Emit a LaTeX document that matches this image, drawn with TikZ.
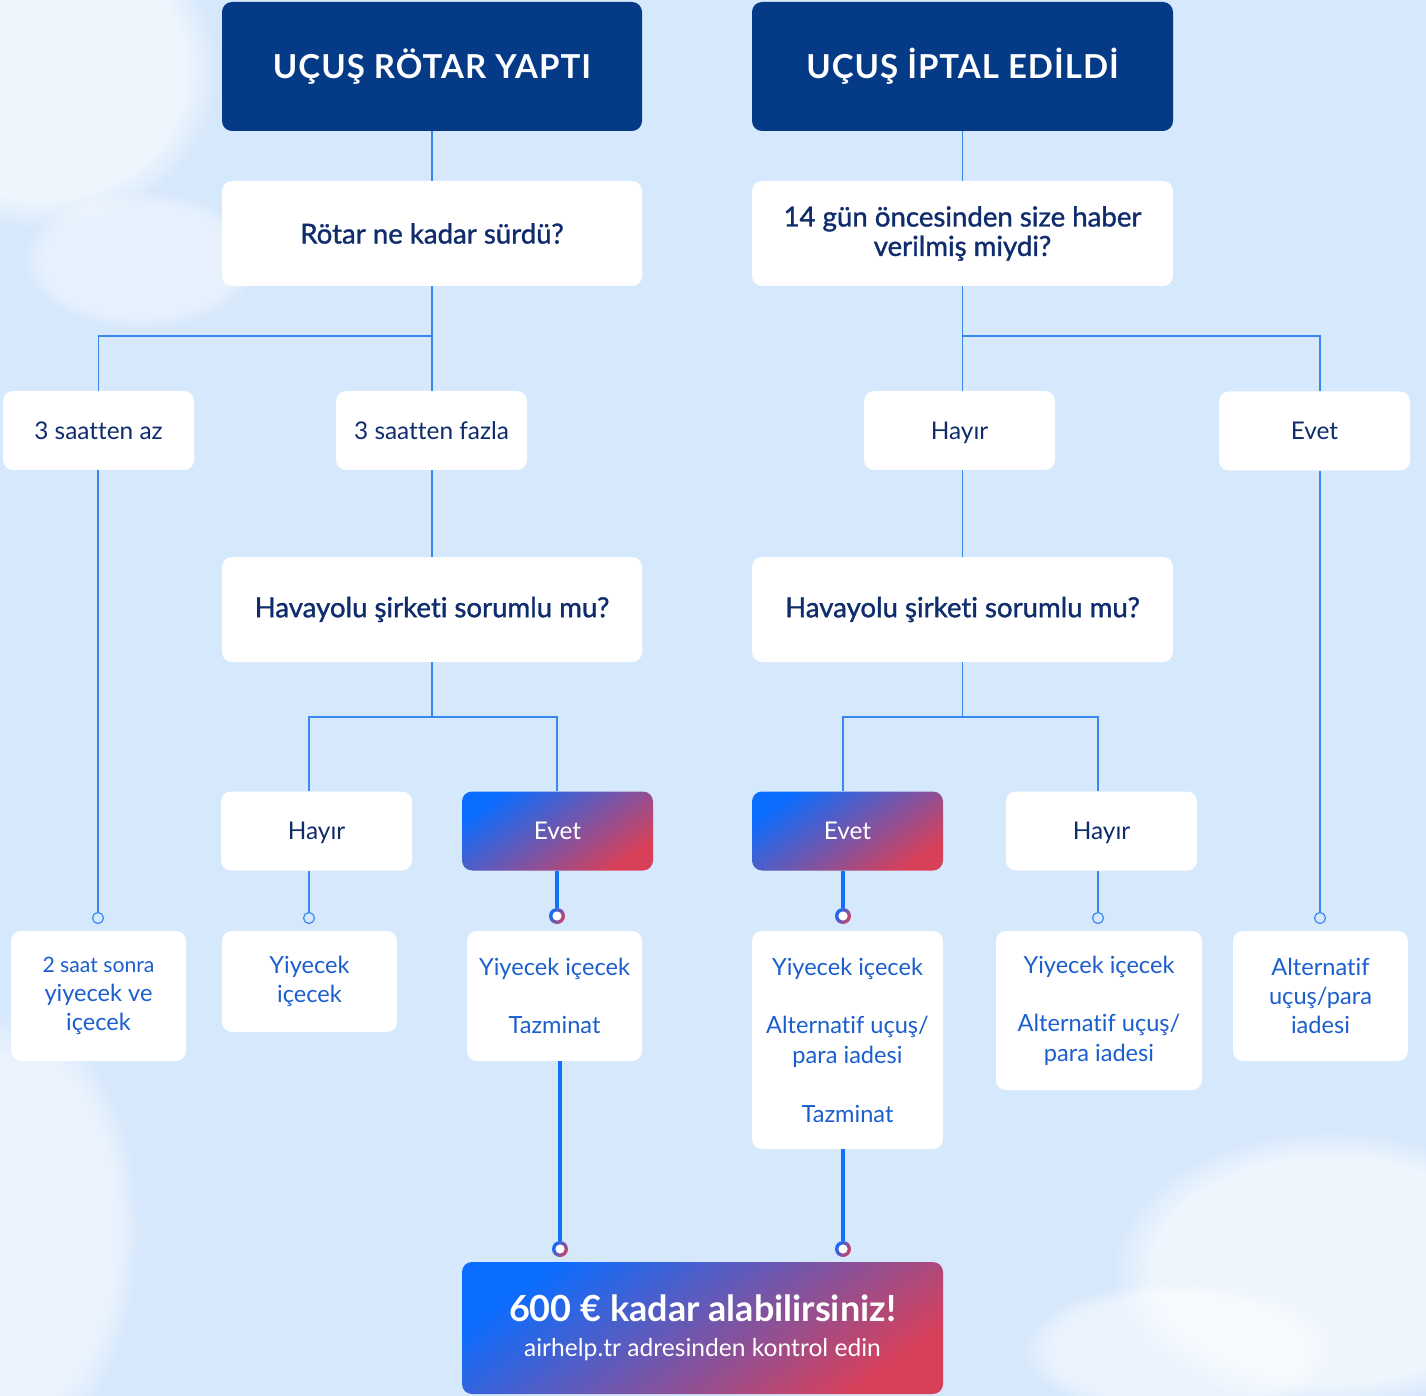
\documentclass[tikz,border=0pt]{standalone}
\usepackage{fontspec}
\setmainfont{Lato}[Ligatures={NoCommon,NoContextual}]
\newfontfamily\medfont[FakeBold=1.2,Ligatures={NoCommon,NoContextual}]{Lato}
\usetikzlibrary{calc,fadings}
\definecolor{bgblue}{HTML}{D6E8FC}
\definecolor{navy}{HTML}{053A87}
\definecolor{qtext}{HTML}{0F2C6C}
\definecolor{btext}{HTML}{1B5FCF}
\definecolor{linkblue}{HTML}{3888F0}
\definecolor{boldblue}{HTML}{1470F8}
\definecolor{gblue}{HTML}{0A6DFF}
\definecolor{gred}{HTML}{D8405A}

\begin{document}
\begin{tikzpicture}[x=0.5pt,y=-0.5pt,
sz/.style 2 args={minimum width=#1*0.5pt,minimum height=#2*0.5pt},
hdr/.style={fill=navy,rounded corners=5pt,inner sep=0pt,text=white,font=\bfseries\fontsize{16.5}{19}\selectfont\addfontfeature{LetterSpace=3}},
qbox/.style={fill=white,rounded corners=5pt,inner sep=0pt,align=center,text=qtext,font=\medfont\fontsize{13.8}{14.7}\selectfont},
obox/.style={fill=white,rounded corners=5pt,inner sep=0pt,sz={191}{79},text=qtext,font=\fontsize{12.2}{14.7}\selectfont},
gbox/.style={rounded corners=5pt,inner sep=0pt,sz={191}{79},left color=gblue,right color=gred,shading angle=35,text=white,font=\fontsize{12.2}{14.7}\selectfont},
rbox/.style={fill=white,rounded corners=5pt,inner sep=0pt,align=center,text=btext,font=\fontsize{11.8}{14.7}\selectfont},
ring/.style={circle,draw=linkblue,line width=0.6pt,fill=bgblue,inner sep=0pt,minimum size=5.5pt},
gring/.style={circle,inner sep=0pt,minimum size=8pt,left color=gblue,right color=gred,shading angle=60,
  path picture={\fill[white] (path picture bounding box.center) circle[radius=2.3pt];}},
link/.style={draw=linkblue,line width=0.7pt},
boldlink/.style={draw=boldblue,line width=2pt}]

\useasboundingbox (0,0) rectangle (1426,1396);
\fill[bgblue] (0,0) rectangle (1426,1396);
\fill[white,fill opacity=0.6,path fading=circle with fuzzy edge 20 percent] (40,70) ellipse [x radius=90pt,y radius=80pt];
\fill[white,fill opacity=0.4,path fading=circle with fuzzy edge 20 percent] (140,260) ellipse [x radius=60pt,y radius=35pt];
\fill[white,fill opacity=0.5,path fading=circle with fuzzy edge 20 percent] (20,1230) ellipse [x radius=60pt,y radius=110pt];
\fill[white,fill opacity=0.6,path fading=circle with fuzzy edge 20 percent] (1330,1270) ellipse [x radius=110pt,y radius=70pt];
\fill[white,fill opacity=0.5,path fading=circle with fuzzy edge 20 percent] (1180,1350) ellipse [x radius=80pt,y radius=35pt];

\node[hdr,sz={420}{129}] (delay) at (432,66.5) {UÇUŞ RÖTAR YAPTI};
\node[hdr,sz={421}{129}] (cancel) at (962.5,66.5) {UÇUŞ İPTAL EDİLDİ};
\node[qbox,sz={420}{105}] (howlong) at (432,233.5) {Rötar ne kadar sürdü?};
\node[qbox,sz={421}{105}] (notice) at (962.5,233.5) {14 gün öncesinden size haber\\verilmiş miydi?};
\node[obox] (less) at (98.5,430.5) {3 saatten az};
\node[obox] (more) at (431.5,430.5) {3 saatten fazla};
\node[obox,text depth=0pt] (noticeno) at (959.5,430.5) {Hayır};
\node[obox] (noticeyes) at (1314.5,431) {Evet};
\node[qbox,sz={420}{105}] (faultL) at (432,609.5) {Havayolu şirketi sorumlu mu?};
\node[qbox,sz={421}{105}] (faultR) at (962.5,609.5) {Havayolu şirketi sorumlu mu?};
\node[obox,text depth=0pt] (faultLno) at (316.5,831) {Hayır};
\node[gbox] (faultLyes) at (557.5,831) {Evet};
\node[gbox] (faultRyes) at (847.5,831) {Evet};
\node[obox,text depth=0pt] (faultRno) at (1101.5,831) {Hayır};

\node[ring] (r1) at (98,918) {};
\node[ring] (r2) at (309,918) {};
\node[gring] (r3) at (557,916) {};
\node[gring] (r4) at (843,916) {};
\node[ring] (r5) at (1098,918) {};
\node[ring] (r6) at (1320,918) {};
\node[gring] (r7) at (560,1249) {};
\node[gring] (r8) at (843,1249) {};

\node[rbox,sz={175}{130}] (res1) at (98.5,996) {{\fontsize{10.6}{14.7}\selectfont 2 saat sonra}\\yiyecek ve\\içecek};
\node[rbox,sz={175}{101}] (res2) at (309.5,981.5) {Yiyecek\\içecek};
\node[rbox,sz={175}{130}] (res3) at (554.5,996) {Yiyecek içecek\\[14.7pt]Tazminat};
\node[rbox,sz={191}{218}] (res4) at (847.5,1040) {Yiyecek içecek\\[14.7pt]Alternatif uçuş/\\para iadesi\\[14.7pt]Tazminat};
\node[rbox,sz={206}{159}] (res5) at (1099,1010.5) {Yiyecek içecek\\[14.7pt]Alternatif uçuş/\\para iadesi};
\node[rbox,sz={175}{130}] (res6) at (1320.5,996) {Alternatif\\uçuş/para\\iadesi};
\node[gbox,sz={481}{132},align=center] (claim) at (702.5,1328) {{\bfseries\fontsize{18}{20}\selectfont 600 € kadar alabilirsiniz!}\\[3pt]{\fontsize{12.3}{14}\selectfont airhelp.tr adresinden kontrol edin}};

\coordinate (splitL) at (432,336);
\coordinate (splitR) at (962.5,336);
\coordinate (forkL) at (432,717);
\coordinate (forkR) at (962.5,717);

\draw[link] (delay) -- (howlong);
\draw[link] (cancel) -- (notice);
\draw[link] (howlong.south) -- (howlong.south |- more.north);
\draw[link] (less.north) |- (splitL);
\draw[link] (notice.south) -- (notice.south |- noticeno.north);
\draw[link] (noticeyes.north -| r6) |- (splitR);
\draw[link] (faultL.north |- more.south) -- (faultL.north);
\draw[link] (faultR.north |- noticeno.south) -- (faultR.north);
\draw[link] (faultL.south) -- (forkL);
\draw[link] (faultLno.north -| r2) |- (forkL) -| (faultLyes.north -| r3);
\draw[link] (faultR.south) -- (forkR);
\draw[link] (faultRyes.north -| r4) |- (forkR) -| (faultRno.north -| r5);
\draw[link] (less.south -| r1) -- (r1);
\draw[link] (faultLno.south -| r2) -- (r2);
\draw[boldlink] (faultLyes.south -| r3) -- (r3);
\draw[boldlink] (faultRyes.south -| r4) -- (r4);
\draw[link] (faultRno.south -| r5) -- (r5);
\draw[link] (noticeyes.south -| r6) -- (r6);
\draw[boldlink] (res3.south -| r7) -- (r7);
\draw[boldlink] (res4.south -| r8) -- (r8);
\end{tikzpicture}
\end{document}
